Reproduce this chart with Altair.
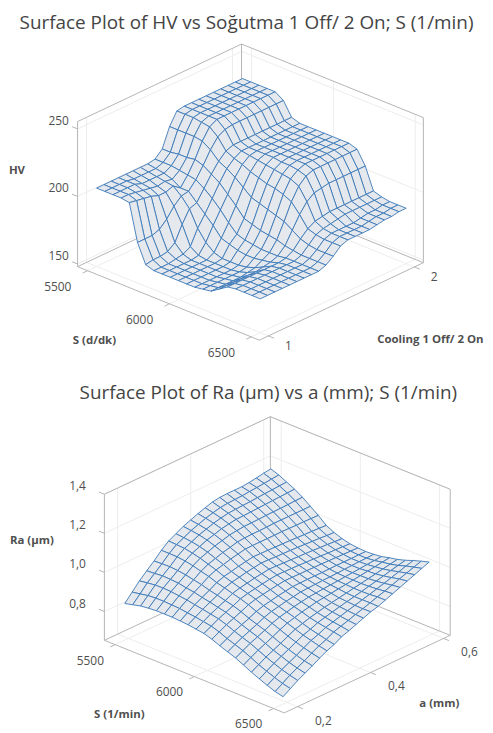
import altair as alt
import pandas as pd

S_GRID = [5500 + 50 * i for i in range(21)]
COOLING_GRID = [1 + 0.05 * j for j in range(21)]
A_GRID = [0.19 + 0.02 * j for j in range(21)]

# HV: one row per S value, entries run along cooling 1 -> 2
HV = [
 [206,206,206,206,206,206,206,206,207,212,226,235,236,236,236,236,236,236,236,236,236],
 [206,206,206,206,205,205,205,205,207,212,226,235,236,236,236,236,236,236,236,236,236],
 [206,206,206,206,204,204,204,204,207,213,226,235,236,236,236,236,236,236,236,236,236],
 [206,206,205,204,203,202,203,202,206,213,226,234,236,236,236,236,236,236,236,236,236],
 [205,204,203,202,200,200,202,198,205,214,225,233,236,236,236,236,236,236,236,236,236],
 [178,178,178,180,185,192,197,198,204,212,221,228,231,232,232,232,232,232,232,232,232],
 [164,165,165,166,170,181,190,192,200,208,215,220,222,222,222,222,222,222,222,222,222],
 [162,162,162,163,164,167,178,186,195,204,212,217,220,220,220,220,220,220,220,220,220],
 [162,162,162,162,162,163,170,180,189,198,208,215,219,220,220,220,220,220,220,220,220],
 [162,162,162,162,162,162,165,173,182,192,203,212,218,220,220,220,220,220,220,220,220],
 [162,162,162,162,162,162,163,171,176,185,198,210,217,220,220,220,220,220,220,220,220],
 [162,162,162,162,162,162,163,169,174,183,196,208,216,219,220,220,220,220,220,220,220],
 [162,162,162,162,162,162,163,168,173,181,194,207,215,219,220,220,220,220,220,220,220],
 [163,163,163,163,163,163,164,168,172,180,192,205,214,218,220,220,220,220,220,220,220],
 [164,164,164,164,164,165,166,169,172,179,190,202,211,216,218,218,218,218,218,218,218],
 [168,168,168,168,168,168,169,170,172,177,186,195,202,206,207,208,208,208,208,208,208],
 [172,172,172,172,172,172,172,172,173,176,182,187,190,191,192,192,192,192,192,192,192],
 [173,173,173,173,173,173,173,173,173,175,180,185,187,188,189,190,190,190,190,190,190],
 [173,173,173,173,173,173,173,173,173,175,179,184,186,186,186,186,187,188,188,189,189],
 [173,173,173,173,173,173,173,173,173,175,179,184,186,186,186,186,187,188,188,189,189],
 [173,173,173,173,173,173,173,173,173,175,179,184,186,186,186,186,187,188,188,189,189],
]

# Ra: one row per a value, entries run along S 5500 -> 6500
RA = [
 [.840,.850,.860,.865,.868,.868,.868,.865,.862,.856,.850,.837,.820,.805,.790,.770,.750,.732,.715,.700,.690],
 [.881,.888,.896,.899,.899,.897,.895,.889,.884,.877,.870,.857,.839,.825,.810,.791,.771,.754,.738,.724,.714],
 [.921,.927,.932,.933,.931,.926,.921,.913,.906,.898,.890,.876,.859,.844,.830,.811,.793,.776,.761,.748,.738],
 [.955,.958,.962,.960,.957,.949,.943,.933,.925,.915,.906,.892,.875,.860,.846,.828,.810,.795,.780,.768,.758],
 [.988,.990,.991,.988,.982,.973,.965,.952,.943,.932,.922,.908,.890,.876,.862,.845,.828,.813,.799,.787,.778],
 [1.025,1.025,1.024,1.019,1.011,.999,.989,.974,.963,.951,.940,.926,.908,.894,.880,.864,.847,.833,.820,.809,.800],
 [1.055,1.053,1.050,1.042,1.032,1.018,1.005,.988,.975,.962,.950,.937,.920,.907,.894,.880,.865,.851,.840,.829,.820],
 [1.075,1.071,1.066,1.058,1.046,1.030,1.015,.996,.983,.969,.957,.944,.928,.915,.903,.891,.877,.864,.854,.844,.835],
 [1.095,1.090,1.084,1.074,1.060,1.043,1.026,1.005,.991,.977,.964,.951,.936,.924,.913,.902,.889,.880,.872,.865,.857],
 [1.110,1.104,1.096,1.085,1.070,1.052,1.034,1.012,.997,.982,.970,.957,.942,.930,.920,.910,.898,.890,.883,.877,.870],
 [1.125,1.118,1.109,1.097,1.081,1.062,1.042,1.019,1.003,.988,.975,.962,.948,.937,.927,.918,.907,.900,.894,.889,.885],
 [1.138,1.129,1.118,1.104,1.086,1.065,1.043,1.018,1.002,.987,.974,.962,.949,.939,.930,.923,.914,.909,.905,.902,.900],
 [1.150,1.138,1.125,1.110,1.090,1.067,1.043,1.017,1.000,.985,.973,.961,.950,.941,.934,.928,.921,.918,.915,.914,.915],
 [1.156,1.142,1.128,1.111,1.091,1.067,1.043,1.016,.999,.984,.972,.961,.950,.943,.937,.933,.928,.926,.926,.927,.925],
 [1.158,1.144,1.130,1.113,1.092,1.068,1.043,1.015,.998,.982,.970,.960,.950,.944,.940,.938,.935,.935,.936,.940,.940],
 [1.158,1.146,1.132,1.115,1.094,1.070,1.044,1.014,.996,.981,.969,.960,.951,.946,.944,.943,.942,.944,.947,.952,.955],
 [1.158,1.150,1.135,1.117,1.095,1.070,1.043,1.012,.994,.979,.967,.959,.952,.948,.947,.948,.949,.953,.958,.965,.970],
 [1.162,1.153,1.138,1.119,1.096,1.070,1.042,1.010,.992,.977,.965,.958,.952,.950,.950,.954,.956,.962,.970,.979,.985],
 [1.168,1.157,1.140,1.121,1.097,1.070,1.042,1.009,.990,.975,.964,.957,.952,.952,.954,.959,.964,.972,.982,.992,1.000],
 [1.175,1.161,1.143,1.123,1.099,1.070,1.041,1.007,.987,.972,.962,.956,.953,.953,.957,.965,.971,.981,.994,1.005,1.015],
 [1.180,1.165,1.145,1.125,1.100,1.070,1.040,1.005,.985,.970,.960,.955,.953,.955,.960,.970,.978,.990,1.005,1.018,1.030],
]

HV_TICKS = [150, 200, 250]
RA_TICKS = [0.8, 1.0, 1.2, 1.4]
S_TICKS = [5500, 6000, 6500]
COOL_TICKS = [1, 2]
A_TICKS = [0.2, 0.4, 0.6]

FONT = "Open Sans"
INK = "#4f4f4f"
EDGE = "#b4b4b4"
GRID = "#ededed"
MESH = "#3a78b8"
FACE = "#e5e8ec"
W = 477


def panel(cfg):
    o, sv, cv, zh = cfg["o"], cfg["s_vec"], cfg["c_vec"], cfg["z_h"]

    def proj(a, b, c):
        return (o[0] + a * sv[0] + b * cv[0],
                o[1] + a * sv[1] + b * cv[1] - c * zh)

    fs = lambda s: cfg["s_frac"][0] + cfg["s_frac"][1] * (s - 5500)
    fc = lambda v: cfg["c_frac"][0] + cfg["c_frac"][1] * (v - cfg["c_frac"][2])
    fz = lambda z: (z - cfg["z_dom"][0]) / (cfg["z_dom"][1] - cfg["z_dom"][0])

    def seg(p, q):
        a, b = proj(*p), proj(*q)
        return {"x": a[0], "y": a[1], "x2": b[0], "y2": b[1]}

    # surface cells, far to near
    cells = []
    n = len(cfg["s_grid"])
    order = sorted(((i, j) for i in range(n - 1) for j in range(n - 1)), key=lambda t: t[0] - t[1])
    for cid, (i, j) in enumerate(order):
        for k, (ii, jj) in enumerate([(i, j), (i + 1, j), (i + 1, j + 1), (i, j + 1)]):
            px, py = proj(fs(cfg["s_grid"][ii]), fc(cfg["c_grid"][jj]), fz(cfg["z"](ii, jj)))
            cells.append({"cell": cid, "k": k, "x": px, "y": py})

    frame = [seg(p, q) for p, q in [
        ((0, 0, 0), (1, 0, 0)), ((1, 0, 0), (1, 1, 0)), ((0, 0, 0), (0, 0, 1)),
        ((0, 0, 1), (0, 1, 1)), ((0, 1, 1), (1, 1, 1)), ((1, 1, 1), (1, 1, 0)),
        ((0, 1, 1), (0, 1, 0)), ((0, 1, 0), (0, 0, 0)), ((0, 1, 0), (1, 1, 0)),
    ]]
    grid, ticks = [], []
    for z in cfg["z_ticks"]:
        c = fz(z)
        grid += [seg((0, 0, c), (0, 1, c)), seg((0, 1, c), (1, 1, c))]
        ticks.append(seg((0, 0, c), (-0.03, 0, c)))
    for s in S_TICKS:
        a = fs(s)
        grid += [seg((a, 0, 0), (a, 1, 0)), seg((a, 1, 0), (a, 1, 1))]
        ticks.append(seg((a, 0, 0), (a, -0.03, 0)))
    for v in cfg["c_ticks"]:
        b = fc(v)
        grid += [seg((0, b, 0), (1, b, 0)), seg((0, b, 0), (0, b, 1))]
        ticks.append(seg((1, b, 0), (1.03, b, 0)))

    labels = []
    zx, zy = cfg["z_off"]
    for z in cfg["z_ticks"]:
        p = proj(0, 0, fz(z))
        labels.append({"t": cfg["fmt"](z), "x": p[0] + zx, "y": p[1] + zy})
    sx, sy = cfg["s_off"]
    for s in S_TICKS:
        p = proj(fs(s), 0, 0)
        labels.append({"t": str(s), "x": p[0] + sx, "y": p[1] + sy})
    cx, cy = cfg["c_off"]
    for v in cfg["c_ticks"]:
        p = proj(1, fc(v), 0)
        labels.append({"t": cfg["fmt"](v), "x": p[0] + cx, "y": p[1] + cy})

    top, h = cfg["top"], cfg["h"]
    X = alt.X("x:Q", scale=alt.Scale(domain=[8, 8 + W], nice=False, zero=False), axis=None)
    Y = alt.Y("y:Q", scale=alt.Scale(domain=[top + h, top], nice=False, zero=False), axis=None)

    def rules(rows, color, width):
        return alt.Chart(pd.DataFrame(rows)).mark_rule(color=color, strokeWidth=width).encode(
            x=X, y=Y, x2="x2:Q", y2="y2:Q")

    surface = alt.Chart(pd.DataFrame(cells)).mark_line(
        interpolate="linear-closed", fill=FACE, stroke=MESH, strokeWidth=0.9, strokeJoin="round"
    ).encode(x=X, y=Y, detail="cell:N", order="k:Q")

    tick_text = alt.Chart(pd.DataFrame(labels)).mark_text(
        font=FONT, fontSize=12, color=INK, align="center", baseline="middle"
    ).encode(x=X, y=Y, text="t:N")
    axis_text = alt.Chart(pd.DataFrame(cfg["titles"])).mark_text(
        font=FONT, fontSize=11.5, fontWeight="bold", color=INK, align="center", baseline="middle"
    ).encode(x=X, y=Y, text="t:N")
    title_text = alt.Chart(pd.DataFrame([cfg["title"]])).mark_text(
        font=FONT, fontSize=19, color="#444444", align="center", baseline="middle"
    ).encode(x=X, y=Y, text="t:N")

    return alt.layer(
        rules(grid, GRID, 1), rules(frame, EDGE, 1), rules(ticks, EDGE, 1),
        surface, tick_text, axis_text, title_text,
    ).properties(width=W, height=h)


comma = lambda v: f"{v:.1f}".replace(".", ",") if isinstance(v, float) else str(v)

upper = panel({
    "o": (75, 266), "s_vec": (183, 74), "c_vec": (165, -78), "z_h": 146,
    "s_frac": (0.055, 0.00090), "c_frac": (0.055, 0.89, 1), "z_dom": (148, 255.4),
    "s_grid": S_GRID, "c_grid": COOLING_GRID, "z": lambda i, j: HV[i][j],
    "z_ticks": HV_TICKS, "c_ticks": COOL_TICKS, "fmt": comma,
    "z_off": (-19, -8), "s_off": (-30, 16), "c_off": (20, 10),
    "titles": [{"t": "HV", "x": 14, "y": 170}, {"t": "S (d/dk)", "x": 92, "y": 341},
               {"t": "Cooling 1 Off/ 2 On", "x": 430, "y": 340}],
    "top": 8, "h": 358,
    "title": {"t": "Surface Plot of HV vs Soğutma 1 Off/ 2 On; S (1/min)", "x": 245, "y": 21},
})

lower = panel({
    "o": (102, 642), "s_vec": (181, 73), "c_vec": (167, -78), "z_h": 147,
    "s_frac": (0.06, 0.00088), "c_frac": (0.08, 2.2, 0.2), "z_dom": (0.6526, 1.4),
    "s_grid": S_GRID, "c_grid": A_GRID, "z": lambda i, j: RA[j][i],
    "z_ticks": RA_TICKS, "c_ticks": A_TICKS, "fmt": comma,
    "z_off": (-27, -8), "s_off": (-25, 16), "c_off": (26, 14),
    "titles": [{"t": "Ra (µm)", "x": 29, "y": 542}, {"t": "S (1/min)", "x": 117, "y": 717},
               {"t": "a (mm)", "x": 439, "y": 706}],
    "top": 366, "h": 359,
    "title": {"t": "Surface Plot of Ra (µm) vs a (mm); S (1/min)", "x": 267, "y": 393},
})

chart = alt.vconcat(upper, lower, spacing=0).properties(padding=0).configure_view(stroke=None)
chart.save("out.html", embed_options={"renderer": "svg", "actions": False})
